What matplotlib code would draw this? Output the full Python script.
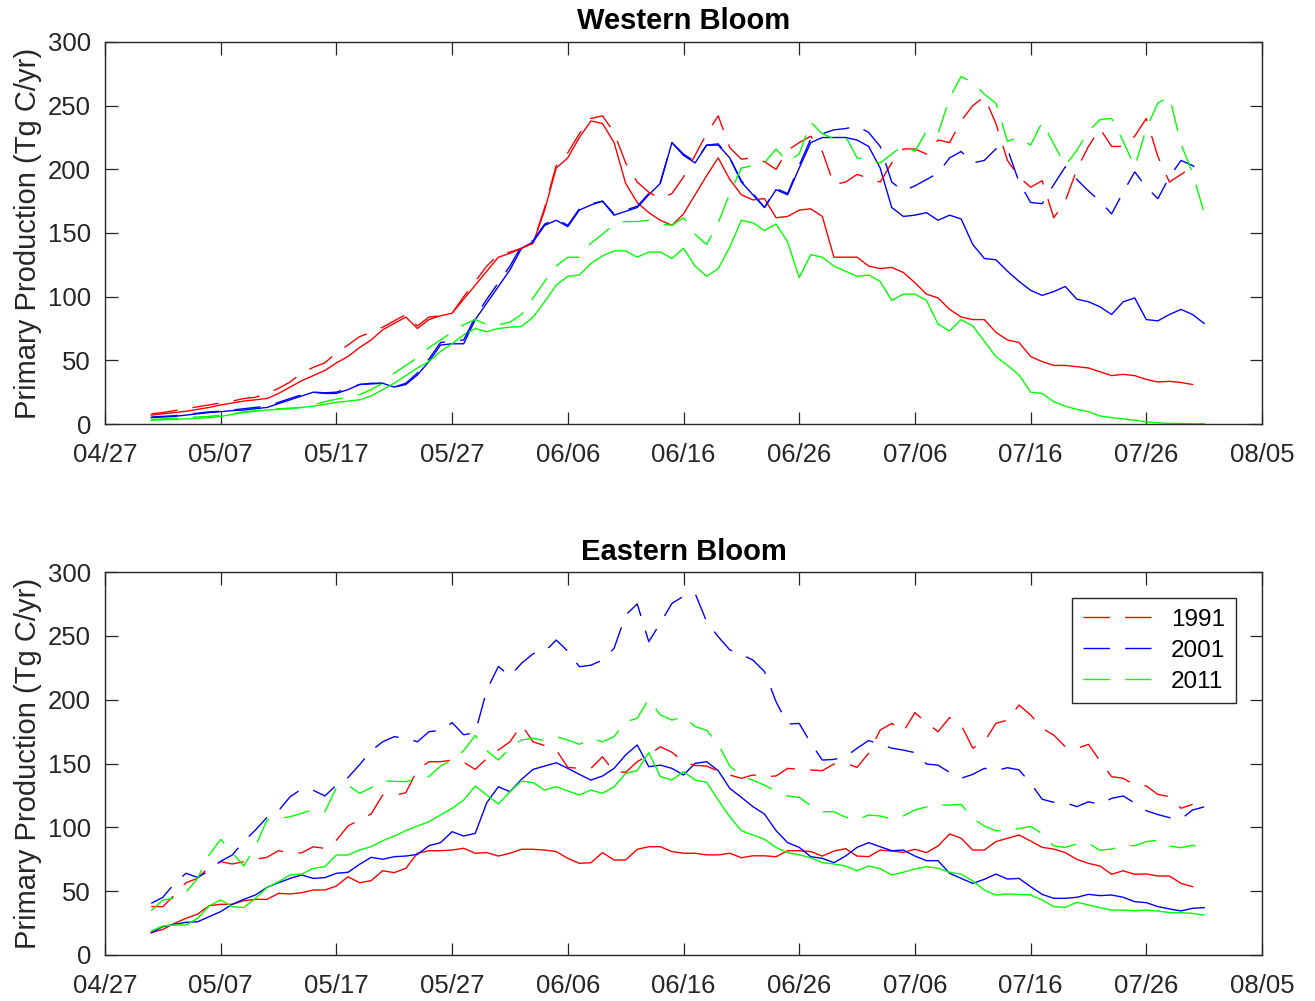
import numpy as np
import matplotlib
matplotlib.use("Agg")
import matplotlib.pyplot as plt
import matplotlib.dates as mdates

plt.rcParams['font.family'] = ['Liberation Sans', 'DejaVu Sans']
plt.rcParams['lines.scale_dashes'] = False

# ====== DATA (daily, starting 05/01) ======
start_date = np.datetime64('2001-05-01')
n_days = 92
dates = np.arange(start_date, start_date + n_days)

# Western Bloom
west_1991_solid = [7, 8, 9, 10, 11.5, 13, 15, 16.5, 18, 19,
                   20, 24, 29, 34, 38, 42, 48, 53, 60, 66,
                   74, 79, 84, 75, 82, 85, 87, 98, 109, 120,
                   131, 134, 138, 142, 168, 201, 209, 225, 238, 236,
                   221, 189, 174, 166, 160, 156, 165, 180, 195, 209,
                   192, 180, 176, 177, 162, 163, 168, 169, 163, 131,
                   131, 131, 124, 122, 123, 119, 111, 102, 99, 90,
                   84, 82, 82, 72, 66, 64, 53, 49, 46, 46,
                   45, 44, 41, 38, 39, 38, 35, 33, 33.5, 32.6, 31]
west_2001_solid = [5, 5.5, 6, 7, 8, 9, 9.7, 10.5, 11, 12,
                   13, 16, 19, 22, 25, 24, 24, 27, 31, 31.5,
                   32, 29, 31, 38.5, 49, 62, 63, 63, 82, 95,
                   108, 121, 138, 143, 156, 160, 155, 168, 172, 175,
                   164, 167, 170, 180, 189, 221, 211, 205, 219, 219,
                   209, 190, 180, 170, 184, 180, 201, 221, 225, 225,
                   225, 223, 218, 201, 170, 163, 164, 166, 160, 164,
                   161, 141, 130, 129, 120, 112, 105, 101, 104, 108,
                   98, 96, 92, 86, 96, 99, 82, 81, 86, 90, 86, 79]
west_2011_solid = [3, 3.3, 3.6, 4, 4.5, 5, 6, 7.5, 9, 10,
                   11, 11.5, 12, 13, 14, 15.5, 17, 18, 19, 22,
                   27, 32, 38, 44, 49, 57, 63, 70, 75, 72.5,
                   75, 76, 76.5, 84, 96, 109, 116, 117, 126, 132,
                   136, 136, 131, 135, 135, 130, 138, 124, 116, 122,
                   139, 160, 158, 152, 157, 143, 115, 133, 131, 124,
                   120, 116, 117, 112, 97, 102, 102, 97, 78.5, 73,
                   82, 77, 65, 53, 46, 38.5, 25, 24, 17.5, 14,
                   11.5, 9.7, 6.3, 5, 4, 3, 1.7, 1, 0.5, 0.3, 0.2, 0.2]
west_1991_dash = [8, 9, 10.5, 12, 13.5, 15, 16.5, 18, 20, 21,
                  24, 28, 33, 40, 44.5, 48, 56, 62, 68.6, 72,
                  76, 81, 86, 77, 84, 85, 87, 100, 112, 124,
                  133, 135, 138, 142, 170, 203, 213, 228, 240, 242,
                  229, 205, 190, 182, 177, 181, 194, 211, 228, 242,
                  217, 208, 209, 206, 200, 215, 221, 226, 214, 188,
                  190, 196, 193, 190, 205, 216, 216, 212, 223, 221,
                  238, 250, 257, 236, 207, 194, 186, 191, 162, 175,
                  200, 218, 232, 218, 218, 226, 240, 210, 190, 196, 202]
west_2001_dash = [5.5, 6, 6.5, 7.5, 8.5, 9.5, 10, 11, 12, 13,
                  14, 17, 20, 23, 25, 24.5, 25, 28, 31, 32,
                  32, 29, 32, 40, 51, 64, 65, 66, 84, 98,
                  111, 124, 140, 144, 157, 161, 156, 169, 173, 175,
                  165, 168, 171, 181, 190, 221, 212, 206, 219, 220,
                  209, 191, 181, 170, 185, 181, 203, 224, 228, 231,
                  232, 234, 229, 218, 190, 183, 187, 192, 197, 209,
                  214, 205, 207, 216, 216, 190, 174, 173, 188, 202,
                  192, 183, 175, 165, 182, 198, 186, 177, 194, 207, 203, 196]
west_2011_dash = [3.5, 4, 4.5, 5, 5.5, 6, 7, 8, 9.5, 10.5,
                  11.5, 12, 12.5, 13, 15, 17.5, 19.5, 21, 23, 27,
                  32, 40, 46, 52, 60, 66, 72, 78, 82, 78,
                  78, 80, 86, 99, 112, 124, 131, 131, 142, 149,
                  157, 159, 159, 160, 157, 156, 162, 149, 141, 158,
                  181, 201, 203, 205, 216, 206, 212, 237, 228, 224,
                  226, 209, 207, 205, 212, 219, 214, 230, 228, 256,
                  273, 268, 259, 252, 222, 225, 219, 237, 220, 203,
                  215, 230, 239, 240, 222, 202, 232, 252, 257, 220, 197, 166]

# Eastern Bloom
east_1991_solid = [17.5, 20, 24.8, 28.7, 32, 38.6, 39.7, 39.7, 42.5, 43.6,
                   43.6, 48.3, 47.8, 48.8, 50.9, 50.9, 54, 61.3, 56.6, 58.2,
                   66, 64.5, 67.9, 79.7, 81.7, 81.7, 82.2, 83.6, 79.7, 80.2,
                   77.5, 79.7, 82.8, 82.8, 82.2, 81, 75.7, 71.8, 72.3, 80.2,
                   74.4, 74.4, 82.8, 84.8, 84.8, 81, 79.7, 79.7, 78.4, 78.4,
                   79.7, 76.2, 77.7, 77.7, 77, 81.7, 81.7, 81, 77.5, 81.4,
                   83.3, 77.5, 77, 82.2, 81.4, 80.4, 82.8, 80.2, 85.4, 94.8,
                   91.4, 82.2, 82.2, 88.8, 91.4, 94, 89.3, 84.3, 83, 80.2,
                   74.9, 71.8, 69.7, 63.2, 66, 63.2, 63.5, 61.9, 61.9, 56.1, 53.5]
east_2001_solid = [17.5, 22.2, 24, 25.6, 26, 30, 34, 39.7, 43.6, 47,
                   53, 56.6, 60, 62.7, 60, 60.6, 64, 64.8, 71, 76.5,
                   75, 77, 77.5, 78.8, 85.6, 88, 96.6, 93.2, 95.3, 119.3,
                   131.8, 127.9, 137.6, 145.4, 148, 150.6, 146.2, 141.5, 137, 140.2,
                   146.2, 156.7, 164.5, 147.5, 148.7, 146.2, 141, 150.1, 151.4, 144.4,
                   130.5, 123.5, 116.2, 110.4, 97.4, 88, 84.3, 77, 75.7, 72.3,
                   77.5, 84.3, 88, 84.8, 81.7, 82.2, 77.5, 73.9, 73.9, 64,
                   60, 56.1, 59.3, 63.4, 59.5, 60, 53.5, 47.5, 44.4, 44.4,
                   45.2, 47.5, 46.5, 47, 45.2, 41.8, 41, 37.9, 36.1, 34.5, 36.6, 37.1]
east_2011_solid = [18.8, 22.7, 23.5, 23.5, 28.7, 38.4, 43.1, 37.9, 37.1, 44.4,
                   52.7, 57.4, 62.7, 63.4, 67.9, 69.2, 78.3, 78.3, 82.2, 84.8,
                   89.5, 93.2, 97.4, 101, 104.4, 109.7, 114.9, 121.4, 132.4, 125.3,
                   118.3, 127.9, 136.3, 135, 129.2, 131.8, 128.5, 125.3, 129.2, 126.6,
                   131.8, 142.3, 144.4, 158.5, 139.7, 137.1, 143.6, 137.1, 135.3, 121.4,
                   108.3, 97.4, 94, 90.6, 84.3, 80.2, 78.4, 76.2, 72.3, 71.3,
                   69.7, 66, 69.7, 67.6, 62.7, 64.8, 67.4, 69.2, 67.9, 64.8,
                   63.4, 58, 50.9, 47, 47.8, 47.5, 47, 43.1, 37.9, 37.3,
                   41.3, 39.2, 37.1, 35.2, 35.2, 34.7, 35.2, 34.5, 33.2, 33.2, 32.6, 31.3]
east_1991_dash = [37.9, 37.9, 47, 56.6, 60, 69, 73.1, 71.3, 73.1, 75,
                  76.5, 81.7, 80, 80, 84.8, 83.5, 90, 101, 106, 110.4,
                  125.3, 125, 127.1, 145, 151.4, 151.4, 152.7, 151, 145.4, 154,
                  160.6, 167, 180.2, 167, 164, 160.6, 147, 146.2, 146.2, 155.3,
                  143.6, 143.1, 151.4, 156.7, 163.1, 158.8, 151.4, 148.5, 148, 144,
                  141, 138.4, 141, 139.7, 140.2, 146.2, 145.4, 144.9, 144.4, 149.6,
                  150.1, 147, 158, 176.2, 181.4, 174.9, 189.8, 182, 174.9, 186,
                  180.2, 162, 167, 181.4, 184, 195.8, 188, 177.5, 172.3, 163,
                  161.9, 165, 152, 139.7, 138.4, 133.2, 132.4, 125.8, 124, 114.9, 118]
east_2001_dash = [40.5, 45.2, 56, 64, 60.8, 66, 73.5, 78.3, 89, 97.9,
                  107.8, 113, 124, 130, 129, 124.6, 133, 139, 149, 160,
                  167, 171, 170, 167, 174.9, 176, 182, 172.5, 174.1, 207.6,
                  226, 218.5, 228.5, 236, 237.6, 246.7, 238, 225.8, 227, 231,
                  240.2, 266.3, 275, 245.4, 260, 275.4, 281, 283.3, 261.1, 249.3,
                  239, 235.5, 231, 222, 198.4, 180.9, 181.4, 166, 152.7, 153.2,
                  155.3, 161.9, 168, 165, 162, 160.5, 158.5, 149.6, 148.7, 143,
                  138.4, 141.5, 146.2, 144.4, 146.7, 145, 134.5, 122, 119.6, 119.3,
                  116.2, 120, 118, 122.7, 124.6, 119, 113, 110, 107.6, 106.5, 113.6, 116]
east_2011_dash = [34.7, 43.1, 44.4, 49, 60, 78.3, 90.6, 80, 69.7, 85,
                  105.7, 107, 108.3, 111, 114, 112.2, 131, 133.2, 126.6, 131,
                  136.5, 136, 135.8, 138, 139.7, 148, 152.7, 160, 172, 160,
                  152.7, 161.9, 168.4, 169.7, 168, 171, 168.4, 165, 169.7, 167,
                  171, 182.7, 185.4, 200.3, 188, 184, 186.6, 179, 176, 165,
                  148, 140, 137, 133, 128.5, 124.5, 123.5, 117, 112.2, 112.2,
                  108, 105.7, 109.7, 108.9, 106.5, 109, 113.6, 116, 117.5, 117.5,
                  118, 107, 101, 97.4, 97.4, 99, 100.7, 95, 85.4, 84.3,
                  87, 87.5, 82, 83, 85.4, 85.7, 88.8, 90, 85.4, 84, 86, 82.8]

years = ["1991", "2001", "2011"]
colors = ["#ff0000", "#0000ff", "#00ff00"]

# ====== STYLE ======
axis_color = "#262626"
dash_pattern = (19, 11)  # points, MATLAB-like long dashes
line_w = 1.0


def style_axes(ax):
    ax.set_xlim(np.datetime64('2001-04-27'), np.datetime64('2001-08-05'))
    ax.set_ylim(0, 300)
    ax.set_xticks(np.arange(np.datetime64('2001-04-27'), np.datetime64('2001-08-06'), 10))
    ax.xaxis.set_major_formatter(mdates.DateFormatter('%m/%d'))
    ax.set_yticks(np.arange(0, 301, 50))
    ax.tick_params(direction='in', length=9, width=0.9, colors=axis_color,
                   labelcolor=axis_color, top=True, right=True, labelsize=18.5)
    ax.tick_params(axis='x', pad=14)
    ax.tick_params(axis='y', pad=10)
    for sp in ax.spines.values():
        sp.set_color(axis_color)
        sp.set_linewidth(1.0)
    ax.set_ylabel("Primary Production (Tg C/yr)", fontsize=21, labelpad=4,
                  color=axis_color)


def draw_panel(ax, solids, dashes, title):
    lines = []
    for vals, c in zip(solids, colors):
        ax.plot(dates[:len(vals)], vals, color=c, lw=line_w)
    for vals, c, yr in zip(dashes, colors, years):
        ln, = ax.plot(dates[:len(vals)], vals, color=c, lw=line_w,
                      linestyle=(0, dash_pattern), label=yr)
        lines.append(ln)
    style_axes(ax)
    ax.set_title(title, fontsize=21, fontweight='bold', pad=9)
    return lines


fig = plt.figure(figsize=(13.15, 10.01), dpi=100)
ax1 = fig.add_axes([105 / 1315, 1 - 424 / 1001, 1157 / 1315, 382 / 1001])
ax2 = fig.add_axes([105 / 1315, 1 - 955 / 1001, 1157 / 1315, 383 / 1001])

draw_panel(ax1, [west_1991_solid, west_2001_solid, west_2011_solid],
           [west_1991_dash, west_2001_dash, west_2011_dash], "Western Bloom")
leg_lines = draw_panel(ax2, [east_1991_solid, east_2001_solid, east_2011_solid],
                       [east_1991_dash, east_2001_dash, east_2011_dash], "Eastern Bloom")

leg = ax2.legend(handles=leg_lines, loc='upper right', bbox_to_anchor=(0.9775, 0.932),
                 borderaxespad=0, fontsize=17.5, handlelength=2.85, handletextpad=0.75,
                 labelspacing=0.36, borderpad=0.45, fancybox=False, framealpha=1)
leg.get_frame().set_edgecolor(axis_color)
leg.get_frame().set_linewidth(1.0)

fig.savefig("out.png", dpi=100)
